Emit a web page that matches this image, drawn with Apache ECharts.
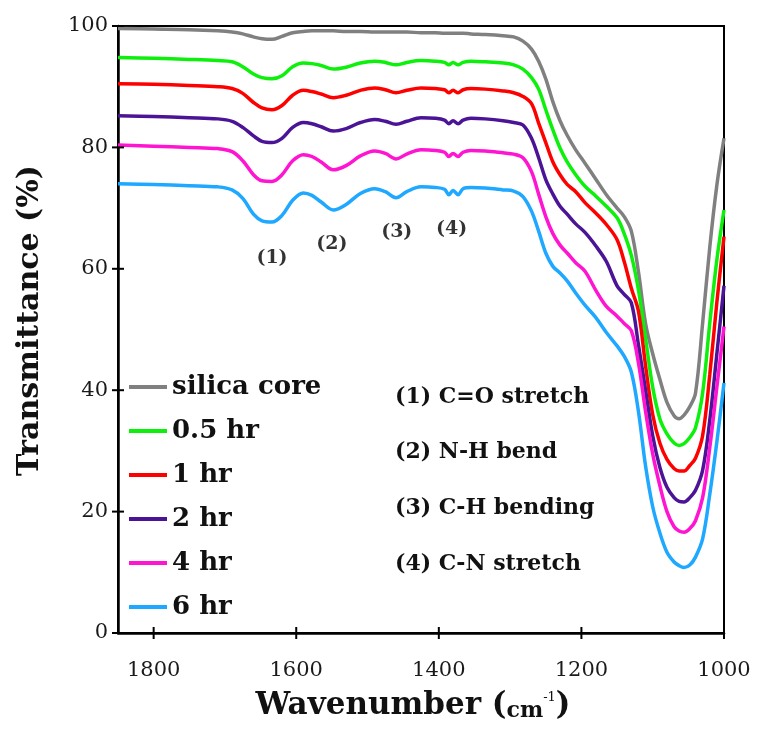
<!DOCTYPE html>
<html>
<head>
<meta charset="utf-8">
<title>FTIR spectra</title>
<script src="https://cdn.jsdelivr.net/npm/echarts@6/dist/echarts.min.js"></script>
<style>
  html, body { margin: 0; padding: 0; background: #fff; }
  #chart { width: 758px; height: 733px; }
</style>
</head>
<body>
<div id="chart"></div>
<script>
// Wavenumber grid (cm-1) shared by all spectra
const wavenumbers = [1850, 1800, 1750, 1710, 1690, 1675, 1660, 1648, 1634, 1620,
  1605, 1590, 1578, 1565, 1548, 1530, 1510, 1490, 1475, 1460,
  1445, 1425, 1405, 1392, 1386, 1380, 1373, 1366, 1355, 1335,
  1310, 1295, 1282, 1270, 1260, 1250, 1240, 1230, 1220, 1208,
  1195, 1180, 1165, 1150, 1140, 1130, 1120, 1110, 1100, 1090,
  1080, 1070, 1063, 1056, 1048, 1040, 1030, 1020, 1010, 1000];

// Transmittance (%) for each sample
const silicaCore = [99.6, 99.5, 99.4, 99.2, 99.0, 98.7, 98.2, 97.9, 97.8, 98.3,
  98.9, 99.1, 99.2, 99.2, 99.2, 99.1, 99.1, 99.0, 99.0, 99.0,
  99.0, 98.9, 98.9, 98.8, 98.8, 98.8, 98.8, 98.8, 98.7, 98.6,
  98.4, 98.2, 97.5, 96.2, 94.2, 91.3, 87.5, 84.4, 82.0, 79.6,
  77.4, 74.8, 72.2, 70.0, 68.6, 66.2, 59.5, 51.0, 46.0, 41.8,
  38.0, 35.8, 35.3, 35.9, 37.3, 39.5, 51.0, 63.5, 73.8, 81.5];
const hr05 = [94.8, 94.7, 94.5, 94.3, 94.1, 93.3, 92.1, 91.5, 91.3, 91.8,
  93.3, 93.9, 93.8, 93.5, 92.9, 93.2, 93.9, 94.2, 94.0, 93.6,
  94.0, 94.3, 94.2, 94.0, 93.6, 94.0, 93.6, 94.0, 94.2, 94.1,
  93.9, 93.6, 92.9, 91.5, 89.6, 86.2, 82.9, 79.9, 77.6, 75.5,
  73.6, 72.0, 70.3, 68.4, 65.8, 62.2, 56.5, 48.5, 40.5, 35.3,
  32.8, 31.3, 30.9, 31.2, 32.2, 33.8, 39.5, 51.0, 61.5, 69.7];
const hr1 = [90.5, 90.4, 90.2, 90.0, 89.7, 88.9, 87.4, 86.5, 86.2, 86.9,
  88.6, 89.4, 89.2, 88.8, 88.2, 88.6, 89.4, 89.8, 89.5, 89.0,
  89.4, 89.8, 89.7, 89.5, 89.0, 89.4, 89.0, 89.5, 89.7, 89.6,
  89.3, 89.0, 88.4, 87.2, 84.0, 80.8, 77.6, 75.5, 73.9, 72.7,
  70.9, 69.2, 67.3, 64.8, 61.2, 56.8, 53.0, 44.0, 36.0, 31.3,
  28.6, 27.1, 26.7, 26.7, 27.6, 28.8, 32.5, 42.5, 54.5, 65.3];
const hr2 = [85.2, 85.1, 84.9, 84.7, 84.3, 83.3, 81.9, 81.0, 80.8, 81.5,
  83.3, 84.1, 83.9, 83.4, 82.7, 83.1, 84.1, 84.6, 84.3, 83.8,
  84.3, 84.9, 84.8, 84.5, 83.9, 84.4, 83.9, 84.5, 84.8, 84.7,
  84.4, 84.1, 83.7, 81.5, 78.3, 74.7, 72.3, 70.3, 69.0, 67.4,
  66.0, 63.8, 61.2, 57.2, 55.8, 54.4, 47.5, 40.0, 32.5, 27.3,
  24.0, 22.3, 21.7, 21.6, 22.3, 23.5, 26.8, 35.0, 46.0, 57.2];
const hr4 = [80.4, 80.2, 80.0, 79.8, 79.3, 77.8, 75.5, 74.5, 74.4, 75.5,
  77.8, 78.8, 78.5, 77.6, 76.3, 77.0, 78.6, 79.4, 79.0, 78.1,
  78.9, 79.6, 79.5, 79.2, 78.5, 79.0, 78.5, 79.2, 79.5, 79.4,
  79.1, 78.9, 78.3, 76.0, 72.3, 68.6, 65.8, 63.9, 62.6, 61.0,
  59.6, 56.5, 53.8, 52.2, 51.0, 49.8, 44.5, 36.5, 29.5, 24.3,
  20.0, 17.5, 16.8, 16.6, 17.2, 18.5, 22.3, 30.5, 40.5, 50.5];
const hr6 = [74.0, 73.9, 73.7, 73.5, 73.0, 71.6, 69.0, 67.9, 67.7, 68.8,
  71.3, 72.5, 72.1, 71.0, 69.7, 70.6, 72.4, 73.2, 72.7, 71.7,
  72.7, 73.5, 73.4, 73.1, 72.2, 72.9, 72.2, 73.2, 73.4, 73.3,
  73.0, 72.8, 71.9, 69.5, 66.2, 62.6, 60.4, 59.3, 58.0, 56.0,
  54.0, 52.0, 49.5, 47.3, 45.6, 43.0, 36.5, 27.5, 20.8, 16.5,
  13.3, 11.7, 11.1, 10.8, 11.2, 12.5, 15.5, 22.8, 31.5, 41.2];

const seriesNames = ['silica core', '0.5 hr', '1 hr', '2 hr', '4 hr', '6 hr'];
const seriesValues = [silicaCore, hr05, hr1, hr2, hr4, hr6];
const seriesColors = ['#808080', '#0cf00c', '#ff0000', '#4b1496', '#ff14d2', '#1ea8ff'];

// Peak markers: labels and their (wavenumber, transmittance) anchor
const peakLabels = ['(1)', '(2)', '(3)', '(4)'];
const peakWavenumbers = [1634, 1550, 1459, 1382];
const peakLabelHeights = [61.8, 64.0, 66.0, 66.6];

// Band assignments listed inside the plot
const bandNotes = ['(1) C=O stretch', '(2) N-H bend', '(3) C-H bending', '(4) C-N stretch'];

// Axis tick positions
const xTicks = [1000, 1200, 1400, 1600, 1800];
const yTicks = [0, 20, 40, 60, 80, 100];
const X_MIN = 1000, X_MAX = 1850;

const SERIF = '"DejaVu Serif", serif';

const chart = echarts.init(document.getElementById('chart'), null, { renderer: 'canvas' });

const lineSeries = seriesNames.map((name, i) => ({
  name: name,
  type: 'line',
  symbol: 'none',
  smooth: 0.35,
  color: seriesColors[i],
  lineStyle: { width: 3.5, color: seriesColors[i] },
  data: wavenumbers.map((w, k) => [w, seriesValues[i][k]]),
  z: 2 + i
}));

const peakSeries = {
  type: 'scatter',
  symbolSize: 0,
  silent: true,
  label: {
    show: true,
    position: 'inside',
    formatter: p => peakLabels[p.dataIndex],
    fontFamily: SERIF,
    fontWeight: 'bold',
    fontSize: 19,
    color: '#000'
  },
  data: peakWavenumbers.map((w, k) => [w, peakLabelHeights[k]])
};

// Tick marks that cross the axis lines (half outside, half inside)
const TICK_HALF = 6;
const tickSeries = {
  type: 'custom',
  silent: true,
  clip: false,
  z: 10,
  dimensions: ['x', 'y', 'dir'],
  encode: { x: 0, y: 1 },
  data: [
    ...yTicks.map(v => [X_MAX, v, 0]),
    ...xTicks.map(w => [w, 0, 1])
  ],
  renderItem: function (params, api) {
    const p = api.coord([api.value(0), api.value(1)]);
    const vertical = api.value(2) === 1;
    const shape = vertical
      ? { x1: p[0], y1: p[1] - TICK_HALF, x2: p[0], y2: p[1] + TICK_HALF }
      : { x1: p[0] - TICK_HALF, y1: p[1], x2: p[0] + TICK_HALF, y2: p[1] };
    return { type: 'line', shape: shape, style: { stroke: '#000', lineWidth: 2 } };
  }
};

const axisFont = { fontFamily: SERIF, fontSize: 21, color: '#1a1a1a', formatter: v => String(v) };

const option = {
  backgroundColor: '#ffffff',
  animation: false,
  grid: {
    left: 118, right: 34, top: 26, bottom: 100,
    containLabel: false,
    outerBoundsMode: 'none',
    show: true, borderColor: '#000', borderWidth: 2, backgroundColor: 'transparent'
  },
  legend: {
    orient: 'vertical',
    left: 129,
    top: 372,
    padding: 0,
    icon: 'rect',
    itemWidth: 38,
    itemHeight: 4,
    itemGap: 14,
    data: seriesNames,
    textStyle: { fontFamily: SERIF, fontWeight: 'bold', fontSize: 26, color: '#111', lineHeight: 30 }
  },
  xAxis: {
    type: 'value',
    min: X_MIN, max: X_MAX, inverse: true,
    interval: 200,
    name: '{b|Wavenumber (}{s|cm}{sup|-1}{b|)}',
    nameLocation: 'middle',
    nameGap: 50,
    nameTextStyle: {
      padding: [0, 16, 0, 0],
      rich: {
        b: { fontFamily: SERIF, fontWeight: 'bold', fontSize: 31, color: '#111', verticalAlign: 'bottom', lineHeight: 36 },
        s: { fontFamily: SERIF, fontWeight: 'bold', fontSize: 22, color: '#111', verticalAlign: 'bottom', lineHeight: 32 },
        sup: { fontFamily: SERIF, fontSize: 13, color: '#111', verticalAlign: 'top', lineHeight: 13, padding: [5, 0, 0, 0] }
      }
    },
    axisLine: { show: true, onZero: false, lineStyle: { color: '#000', width: 2.5 } },
    axisTick: { show: false },
    axisLabel: { ...axisFont, margin: 27, customValues: xTicks },
    splitLine: { show: false }
  },
  yAxis: {
    type: 'value',
    min: 0, max: 100, interval: 20,
    name: 'Transmittance (%)',
    nameLocation: 'middle',
    nameGap: 73,
    nameTextStyle: { fontFamily: SERIF, fontWeight: 'bold', fontSize: 30, color: '#111', padding: [0, 0, 0, 18] },
    axisLine: { show: true, onZero: false, lineStyle: { color: '#000', width: 2.5 } },
    axisTick: { show: false },
    axisLabel: { ...axisFont, margin: 10 },
    splitLine: { show: false }
  },
  graphic: bandNotes.map((t, k) => ({
    type: 'text',
    left: 395,
    top: 386 + k * 55.7,
    style: { text: t, fontFamily: SERIF, fontWeight: 'bold', fontSize: 22, fill: '#111' }
  })),
  series: [...lineSeries, peakSeries, tickSeries]
};

chart.setOption(option);
</script>
</body>
</html>
